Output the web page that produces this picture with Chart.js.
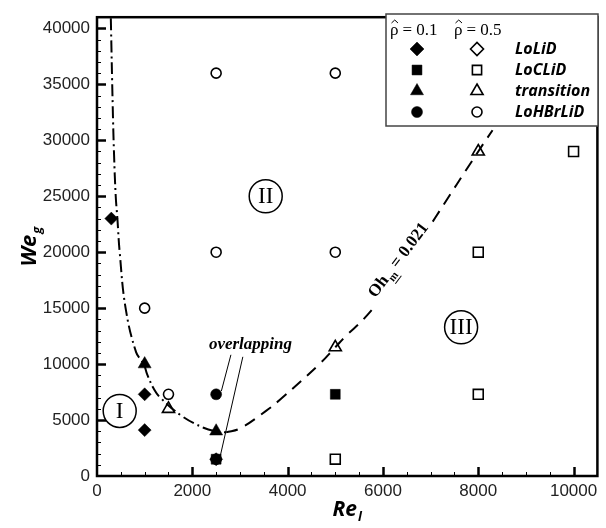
<!DOCTYPE html>
<html>
<head>
<meta charset="utf-8">
<script src="https://cdn.jsdelivr.net/npm/chart.js@4"></script>
<style>
body { margin: 0; background: #fff; }
</style>
</head>
<body>
<canvas id="chart" width="606" height="528"></canvas>
<script>
// tick labels
var xTickVals = [0, 2000, 4000, 6000, 8000, 10000];
var yTickVals = [0, 5000, 10000, 15000, 20000, 25000, 30000, 35000, 40000];

// rho = 0.1 (filled markers)
var loLiD_1x = [300, 1000, 1000, 2500];
var loLiD_1y = [23000, 7300, 4100, 1500];
var loCLiD_1x = [5000, 2500];
var loCLiD_1y = [7300, 1500];
var trans_1x = [1000, 2500];
var trans_1y = [10000, 4000];
var loHBr_1x = [2500, 2500];
var loHBr_1y = [7300, 1500];

// rho = 0.5 (open markers)
var loCLiD_5x = [5000, 8000, 8000, 10000];
var loCLiD_5y = [1500, 7300, 20000, 29000];
var trans_5x = [1500, 5000, 8000];
var trans_5y = [6000, 11500, 29000];
var loHBr_5x = [1000, 1500, 2500, 5000, 2500, 5000];
var loHBr_5y = [15000, 7300, 20000, 20000, 36000, 36000];

// boundary curves
var leftCurveX = [290, 330, 358, 393, 428, 476, 600, 820, 980, 1055, 1200, 1340, 1780, 2235, 2480, 2710];
var leftCurveY = [40900, 33000, 28700, 25000, 23000, 20000, 15000, 11070, 10000, 9050, 7730, 6950, 5360, 4310, 4000, 3900];
var ohCurveX = [2710, 3000, 3540, 3850, 4650, 5000, 5235, 5590, 6000, 6550, 7100, 8000, 8300];
var ohCurveY = [3900, 4250, 5800, 6860, 9930, 11500, 12570, 14000, 16100, 19400, 23100, 29000, 30900];

function pts(xs, ys) {
    return xs.map(function (x, i) { return { x: x, y: ys[i] }; });
}

function marker(label, xs, ys, style, r, filled) {
    return {
        label: label,
        data: pts(xs, ys),
        pointStyle: style,
        pointRadius: r,
        pointHoverRadius: r,
        pointBackgroundColor: filled ? '#000' : 'rgba(0,0,0,0)',
        pointBorderColor: '#000',
        pointBorderWidth: filled ? 0.5 : 1.6
    };
}

function curve(label, xs, ys, dash) {
    return {
        label: label,
        data: pts(xs, ys),
        showLine: true,
        pointRadius: 0,
        borderColor: '#000',
        borderWidth: 2,
        borderDash: dash,
        tension: 0.4
    };
}

function rotatedSub(ctx, main, sub, x, y, size, angle) {
    ctx.save();
    ctx.translate(x, y);
    ctx.rotate(angle);
    ctx.font = 'italic bold ' + size + 'px "Open Sans"';
    var w1 = ctx.measureText(main).width;
    ctx.font = 'italic bold ' + Math.round(size * 0.6) + 'px "Open Sans"';
    var w2 = ctx.measureText(sub).width;
    var x0 = -(w1 + w2 + 1) / 2;
    ctx.textBaseline = 'middle';
    ctx.textAlign = 'left';
    ctx.font = 'italic bold ' + size + 'px "Open Sans"';
    ctx.fillText(main, x0, 0);
    ctx.font = 'italic bold ' + Math.round(size * 0.6) + 'px "Open Sans"';
    ctx.fillText(sub, x0 + w1 + 1, size * 0.35);
    ctx.restore();
}

// rho with a hat, then the rest of the text
function rhoHat(ctx, rest, x, y) {
    ctx.fillText('\u03C1', x, y);
    var w = ctx.measureText('\u03C1').width;
    ctx.lineWidth = 1;
    ctx.beginPath();
    ctx.moveTo(x + 1.5, y - 8);
    ctx.lineTo(x + w / 2 + 0.5, y - 11);
    ctx.lineTo(x + w - 0.5, y - 8);
    ctx.stroke();
    ctx.fillText(rest, x + w + 4, y);
}

var decor = {
    id: 'decor',
    afterDraw: function (chart) {
        var ctx = chart.ctx, a = chart.chartArea;
        var sx = chart.scales.x, sy = chart.scales.y;
        ctx.save();
        ctx.strokeStyle = '#000';

        // inward ticks
        var v, p, major;
        for (v = 500; v < 10500; v += 500) {
            p = Math.round(sx.getPixelForValue(v)) + 0.5;
            major = v % 2000 === 0;
            ctx.lineWidth = major ? 2.5 : 1;
            ctx.beginPath();
            ctx.moveTo(p, a.bottom);
            ctx.lineTo(p, a.bottom - (major ? 9 : 4));
            ctx.stroke();
        }
        for (v = 1000; v < 41000; v += 1000) {
            p = Math.round(sy.getPixelForValue(v)) + 0.5;
            major = v % 5000 === 0;
            ctx.lineWidth = major ? 2.5 : 1;
            ctx.beginPath();
            ctx.moveTo(a.left, p);
            ctx.lineTo(a.left + (major ? 9 : 4), p);
            ctx.stroke();
        }

        // frame
        ctx.lineWidth = 2.5;
        ctx.strokeRect(a.left, a.top, a.right - a.left, a.bottom - a.top);

        // region labels
        ctx.fillStyle = '#000';
        ctx.lineWidth = 1.5;
        ctx.textAlign = 'center';
        ctx.textBaseline = 'middle';
        ctx.font = '23px "Liberation Serif"';
        [['I', 476, 5810], ['II', 3540, 25000], ['III', 7640, 13290]].forEach(function (r) {
            var cx = sx.getPixelForValue(r[1]), cy = sy.getPixelForValue(r[2]);
            ctx.fillStyle = '#fff';
            ctx.beginPath();
            ctx.arc(cx, cy, 16.5, 0, Math.PI * 2);
            ctx.fill();
            ctx.stroke();
            ctx.fillStyle = '#000';
            ctx.fillText(r[0], cx, cy + 1);
        });

        // overlapping note
        ctx.font = 'italic bold 17px "Liberation Serif"';
        ctx.fillText('overlapping', sx.getPixelForValue(3220), sy.getPixelForValue(11750));
        ctx.lineWidth = 1;
        ctx.beginPath();
        ctx.moveTo(sx.getPixelForValue(2810), sy.getPixelForValue(10830));
        ctx.lineTo(sx.getPixelForValue(2610), sy.getPixelForValue(7600));
        ctx.moveTo(sx.getPixelForValue(3060), sy.getPixelForValue(10650));
        ctx.lineTo(sx.getPixelForValue(2590), sy.getPixelForValue(1850));
        ctx.stroke();

        // Oh_m label along the dashed curve
        ctx.save();
        ctx.translate(sx.getPixelForValue(6330), sy.getPixelForValue(19280));
        ctx.rotate(-53 * Math.PI / 180);
        ctx.fillStyle = '#fff';
        ctx.fillRect(-50, -10, 100, 21);
        ctx.fillStyle = '#000';
        ctx.textAlign = 'left';
        ctx.font = 'bold 17px "Liberation Serif"';
        var wOh = ctx.measureText('Oh').width;
        var wEq = ctx.measureText('= 0.021').width;
        var x0 = -(wOh + 14 + wEq) / 2;
        ctx.fillText('Oh', x0, 0);
        ctx.font = 'bold 11px "Liberation Serif"';
        ctx.fillText('m', x0 + wOh + 1, 6);
        ctx.fillRect(x0 + wOh + 1, 11, 10, 1);
        ctx.font = 'bold 17px "Liberation Serif"';
        ctx.fillText('= 0.021', x0 + wOh + 14, 0);
        ctx.restore();

        // legend box
        var lx = 386, ly = 14;
        ctx.fillStyle = '#fff';
        ctx.fillRect(lx, ly, 212, 112);
        ctx.strokeStyle = '#444';
        ctx.lineWidth = 1.5;
        ctx.strokeRect(lx, ly, 212, 112);
        ctx.fillStyle = '#000';
        ctx.strokeStyle = '#000';
        ctx.textAlign = 'left';
        ctx.font = '17px "Liberation Serif"';
        rhoHat(ctx, '= 0.1', 390, 31);
        rhoHat(ctx, '= 0.5', 454, 31);
        var rows = [['rectRot', 7, 'LoLiD'], ['rect', 7, 'LoCLiD'], ['triangle', 7.5, 'transition'], ['circle', 5.5, 'LoHBrLiD']];
        var rowY = [49, 70, 91, 112];
        ctx.font = 'italic bold 16px "Open Sans"';
        rows.forEach(function (r, i) {
            ctx.fillStyle = '#000';
            ctx.lineWidth = 0.5;
            Chart.helpers.drawPoint(ctx, { pointStyle: r[0], radius: r[1], borderWidth: 0.5 }, 417, rowY[i]);
            ctx.fillStyle = 'rgba(0,0,0,0)';
            ctx.lineWidth = 1.6;
            Chart.helpers.drawPoint(ctx, { pointStyle: r[0], radius: r[1] - 0.5, borderWidth: 1.6 }, 477, rowY[i]);
            ctx.fillStyle = '#000';
            ctx.fillText(r[2], 515, rowY[i]);
        });

        // axis titles
        rotatedSub(ctx, 'We', 'g', 30, (a.top + a.bottom) / 2, 22, -Math.PI / 2);
        rotatedSub(ctx, 'Re', 'l', (a.left + a.right) / 2, 510, 21, 0);
        ctx.restore();
    }
};

new Chart(document.getElementById('chart').getContext('2d'), {
    type: 'scatter',
    data: {
        datasets: [
            marker('LoLiD 0.1', loLiD_1x, loLiD_1y, 'rectRot', 6.5, true),
            marker('LoCLiD 0.1', loCLiD_1x, loCLiD_1y, 'rect', 7, true),
            marker('transition 0.1', trans_1x, trans_1y, 'triangle', 7.5, true),
            marker('LoHBrLiD 0.1', loHBr_1x, loHBr_1y, 'circle', 5.5, true),
            marker('LoCLiD 0.5', loCLiD_5x, loCLiD_5y, 'rect', 7, false),
            marker('transition 0.5', trans_5x, trans_5y, 'triangle', 7, false),
            marker('LoHBrLiD 0.5', loHBr_5x, loHBr_5y, 'circle', 5, false),
            curve('left boundary', leftCurveX, leftCurveY, [12, 4, 2, 4]),
            curve('Oh_m = 0.021', ohCurveX, ohCurveY, [12, 8])
        ]
    },
    options: {
        responsive: false,
        animation: false,
        layout: { padding: { top: 10, right: 3, left: 0, bottom: 0 } },
        plugins: { legend: { display: false }, tooltip: { enabled: false } },
        scales: {
            x: {
                type: 'linear', min: 0, max: 10500,
                grid: { display: false, drawTicks: false },
                border: { display: false },
                afterBuildTicks: function (s) { s.ticks = xTickVals.map(function (v) { return { value: v }; }); },
                afterFit: function (s) { s.height = 52; },
                ticks: {
                    padding: 5, color: '#222', autoSkip: false, maxRotation: 0,
                    font: { family: 'Liberation Sans', size: 17 },
                    callback: function (v) { return String(v); }
                }
            },
            y: {
                type: 'linear', min: 0, max: 41000,
                grid: { display: false, drawTicks: false },
                border: { display: false },
                afterBuildTicks: function (s) { s.ticks = yTickVals.map(function (v) { return { value: v }; }); },
                afterFit: function (s) { s.width = 97; },
                ticks: {
                    padding: 7, color: '#222', autoSkip: false,
                    font: { family: 'Liberation Sans', size: 17 },
                    callback: function (v) { return String(v); }
                }
            }
        }
    },
    plugins: [decor]
});
</script>
</body>
</html>
